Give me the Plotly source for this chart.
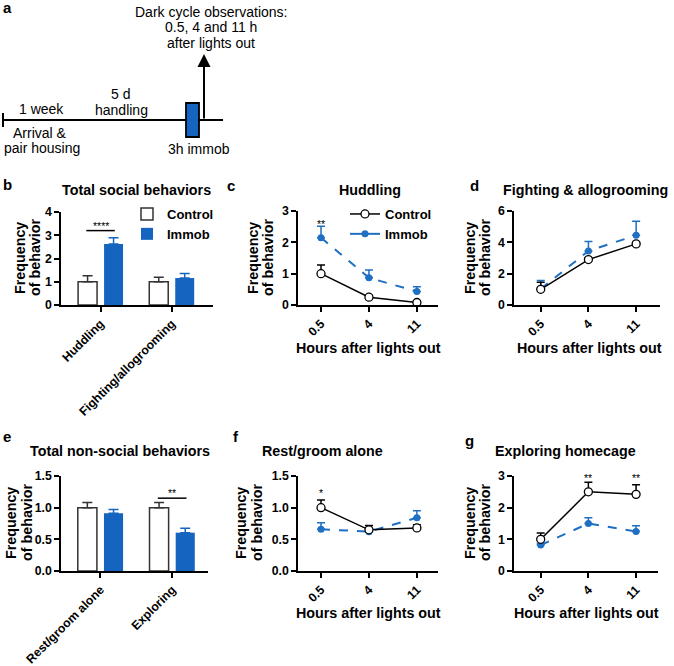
import plotly.graph_objects as go

W, H = 674, 666
FONT = "Liberation Sans"
BLUE = "#1565c0"
LBLUE = "#1f6fc2"

# ---- data ----
social_cats = ["Huddling", "Fighting/allogrooming"]
social_ctrl = [1.0, 1.0]
social_ctrl_err = [0.26, 0.19]
social_immob = [2.62, 1.16]
social_immob_err = [0.27, 0.2]

nonsocial_cats = ["Rest/groom alone", "Exploring"]
nonsocial_ctrl = [1.0, 1.0]
nonsocial_ctrl_err = [0.08, 0.08]
nonsocial_immob = [0.91, 0.605]
nonsocial_immob_err = [0.06, 0.07]

hours = ["0.5", "4", "11"]

hud_ctrl = [1.0, 0.25, 0.08]
hud_ctrl_err = [0.28, 0.06, 0.03]
hud_immob = [2.15, 0.87, 0.43]
hud_immob_err = [0.36, 0.25, 0.15]

fight_ctrl = [1.0, 2.9, 3.9]
fight_ctrl_err = [0.45, 0.12, 0.1]
fight_immob = [1.02, 3.45, 4.45]
fight_immob_err = [0.55, 0.6, 0.9]

rest_ctrl = [1.0, 0.65, 0.68]
rest_ctrl_err = [0.12, 0.07, 0.05]
rest_immob = [0.66, 0.62, 0.84]
rest_immob_err = [0.1, 0.03, 0.11]

expl_ctrl = [1.0, 2.5, 2.42]
expl_ctrl_err = [0.2, 0.3, 0.3]
expl_immob = [0.82, 1.5, 1.25]
expl_immob_err = [0.05, 0.18, 0.18]

# significance: (axis, category index, y, label)
sig_bars = [("", 0, 3.2, "****"), ("4", 1, 1.15, "**")]
sig_pts = [("2", 0, 2.64, "**"), ("5", 0, 1.27, "*"), ("6", 1, 3.0, "**"), ("6", 2, 3.0, "**")]


def fx(px):
    return px / W


def fy(py):
    return 1 - py / H


def up_err(vals, col, w=4):
    return dict(type="data", array=vals, arrayminus=[0] * len(vals), symmetric=False,
                color=col, thickness=1.5, width=w)


fig = go.Figure()

# bar panels: b (x,y) and e (x4,y4)
for cats, c, ce, im, ie, ax, show in [
        (social_cats, social_ctrl, social_ctrl_err, social_immob, social_immob_err, "", True),
        (nonsocial_cats, nonsocial_ctrl, nonsocial_ctrl_err, nonsocial_immob, nonsocial_immob_err, "4", False)]:
    fig.add_trace(go.Bar(x=cats, y=c, name="Control", marker=dict(color="white", line=dict(color="#333", width=1.5)),
                         error_y=up_err(ce, "#333", 5), xaxis="x" + ax, yaxis="y" + ax,
                         showlegend=show, legend="legend"))
    fig.add_trace(go.Bar(x=cats, y=im, name="Immob", marker=dict(color=BLUE, line=dict(width=0)),
                         error_y=up_err(ie, BLUE, 5), xaxis="x" + ax, yaxis="y" + ax,
                         showlegend=show, legend="legend"))

# line panels: c (2), d (3), f (5), g (6)
for c, ce, im, ie, ax, show in [
        (hud_ctrl, hud_ctrl_err, hud_immob, hud_immob_err, "2", True),
        (fight_ctrl, fight_ctrl_err, fight_immob, fight_immob_err, "3", False),
        (rest_ctrl, rest_ctrl_err, rest_immob, rest_immob_err, "5", False),
        (expl_ctrl, expl_ctrl_err, expl_immob, expl_immob_err, "6", False)]:
    fig.add_trace(go.Scatter(x=hours, y=im, name="Immob", mode="lines+markers",
                             line=dict(color=LBLUE, width=2, dash="dash"),
                             marker=dict(color=LBLUE, size=7),
                             error_y=up_err(ie, LBLUE), xaxis="x" + ax, yaxis="y" + ax,
                             showlegend=False))
    fig.add_trace(go.Scatter(x=hours, y=c, name="Control", mode="lines+markers",
                             line=dict(color="black", width=1.5),
                             marker=dict(color="white", size=8, line=dict(color="black", width=1.3)),
                             error_y=up_err(ce, "black"), xaxis="x" + ax, yaxis="y" + ax,
                             showlegend=show, legend="legend2"))
    if show:
        fig.add_trace(go.Scatter(x=[None], y=[None], name="Immob", mode="lines+markers",
                                 line=dict(color=LBLUE, width=2),
                                 marker=dict(color=LBLUE, size=7), xaxis="x" + ax, yaxis="y" + ax,
                                 showlegend=True, legend="legend2"))

axis_common = dict(showline=True, linewidth=1.5, linecolor="black", ticks="outside", ticklen=5,
                   tickwidth=1.5, tickcolor="black", showgrid=False, zeroline=False, automargin=False,
                   tickfont=dict(family=FONT, size=12.3, color="black", weight="bold"))

panels = {
    "": ([61, 213], [212, 305], [-0.556, 1.58], [0, 4], [0, 1, 2, 3, 4], None),
    "2": ([298, 438], [211, 305], [-0.48, 2.44], [0, 3], [0, 1, 2, 3], None),
    "3": ([514, 660], [211, 305], [-0.56, 2.5], [0, 6], [0, 2, 4, 6], None),
    "4": ([61, 208], [476, 571], [-0.55, 1.5], [0, 1.5], [0, 0.5, 1, 1.5], ".1f"),
    "5": ([298, 438], [476, 571], [-0.48, 2.44], [0, 1.5], [0, 0.5, 1, 1.5], ".1f"),
    "6": ([514, 658], [476, 571], [-0.56, 2.46], [0, 3], [0, 1, 2, 3], None),
}
lay = {}
for n, (xd, yd, xr, yr, tv, tf) in panels.items():
    xa = dict(axis_common, domain=[fx(xd[0]), fx(xd[1])], range=xr, tickangle=-45,
              anchor="y" + n)
    ya = dict(axis_common, domain=[fy(yd[1]), fy(yd[0])], range=yr, tickvals=tv,
              anchor="x" + n)
    if tf:
        ya["tickformat"] = tf
    lay["xaxis" + n] = xa
    lay["yaxis" + n] = ya

fig.update_layout(**lay)

ann = []
shapes = []


def text(x, y, s, size=12, bold=False, angle=0, xanchor="center"):
    ann.append(dict(x=fx(x), y=fy(y), xref="paper", yref="paper", text=("<b>%s</b>" % s) if bold else s,
                    showarrow=False, textangle=angle, xanchor=xanchor, yanchor="middle",
                    font=dict(family=FONT, size=size, color="black")))


# panel letters
for lt, x, y in [("a", 7, 8), ("b", 7, 184), ("c", 231, 185), ("d", 474, 185),
                 ("e", 7, 436), ("f", 236, 436), ("g", 469, 440)]:
    text(x, y, lt, size=15, bold=True)

# titles
for s, x, y in [("Total social behaviors", 136, 190), ("Huddling", 370, 190),
                ("Fighting &amp; allogrooming", 585, 190), ("Total non-social behaviors", 120, 451),
                ("Rest/groom alone", 322, 451), ("Exploring homecage", 565, 451)]:
    text(x, y, s, size=14.3, bold=True)

# y titles, two lines each
for x1, x2, y in [(20, 35, 258), (253, 268, 258), (470, 485, 258),
                  (11, 27, 523), (241, 257, 523), (470, 485, 523)]:
    text(x1, y, "Frequency", size=14.3, bold=True, angle=-90)
    text(x2, y, "of behavior", size=14.3, bold=True, angle=-90)

# x titles
for x, y in [(368, 348), (589, 348), (368, 613), (586, 613)]:
    text(x, y, "Hours after lights out", size=14.3, bold=True)

for ax, ci, yv, s in sig_bars:
    shapes.append(dict(type="line", xref="x" + ax, yref="y" + ax, x0=ci - 0.2, x1=ci + 0.2,
                       y0=yv, y1=yv, line=dict(color="black", width=1.5)))
    ann.append(dict(x=ci, y=yv, xref="x" + ax, yref="y" + ax, text=s, showarrow=False,
                    yanchor="bottom", yshift=-3, font=dict(family=FONT, size=10.5, color="black")))
for ax, ci, yv, s in sig_pts:
    ann.append(dict(x=ci, y=yv, xref="x" + ax, yref="y" + ax, text=s, showarrow=False, yshift=-2,
                    font=dict(family=FONT, size=10.5, color="black")))

# panel a: timeline diagram
shapes.append(dict(type="line", xref="paper", yref="paper", x0=fx(3), x1=fx(223), y0=fy(120), y1=fy(120),
                   line=dict(color="black", width=2)))
shapes.append(dict(type="line", xref="paper", yref="paper", x0=fx(3), x1=fx(3), y0=fy(113), y1=fy(127),
                   line=dict(color="black", width=2)))
shapes.append(dict(type="rect", xref="paper", yref="paper", x0=fx(186), x1=fx(199), y0=fy(137), y1=fy(103),
                   fillcolor=BLUE, line=dict(color="black", width=1.8)))
ann.append(dict(x=fx(204), y=fy(54), xref="paper", yref="paper", ax=0, ay=66, text="", showarrow=True,
                arrowhead=2, arrowsize=1.3, arrowwidth=2, arrowcolor="black"))
for s, x, y in [("Dark cycle observations:", 211, 12), ("0.5, 4 and 11 h", 211, 27),
                ("after lights out", 211, 43), ("1 week", 41, 109), ("5 d", 120, 94),
                ("handling", 121, 110), ("Arrival &amp;", 40, 133), ("pair housing", 42, 148),
                ("3h immob", 199, 149)]:
    text(x, y, s, size=14)

fig.update_layout(
    width=W, height=H, margin=dict(l=0, r=0, t=0, b=0, autoexpand=False),
    plot_bgcolor="white", paper_bgcolor="white",
    barmode="group", bargap=0.27, bargroupgap=0.27,
    annotations=ann, shapes=shapes,
    legend=dict(x=fx(127), y=fy(199), xanchor="left", yanchor="top", bgcolor="rgba(0,0,0,0)",
                tracegroupgap=0, itemwidth=30,
                font=dict(family=FONT, size=13, color="black", weight="bold")),
    legend2=dict(x=fx(345), y=fy(199), xanchor="left", yanchor="top", bgcolor="rgba(0,0,0,0)",
                 tracegroupgap=0, itemwidth=30,
                 font=dict(family=FONT, size=13, color="black", weight="bold")),
)

# the page body has a default 8px margin; drop it so the figure sits at the window corner
fig.write_html("out.html", config={"displayModeBar": False},
               post_script="document.body.style.margin='0px';")
